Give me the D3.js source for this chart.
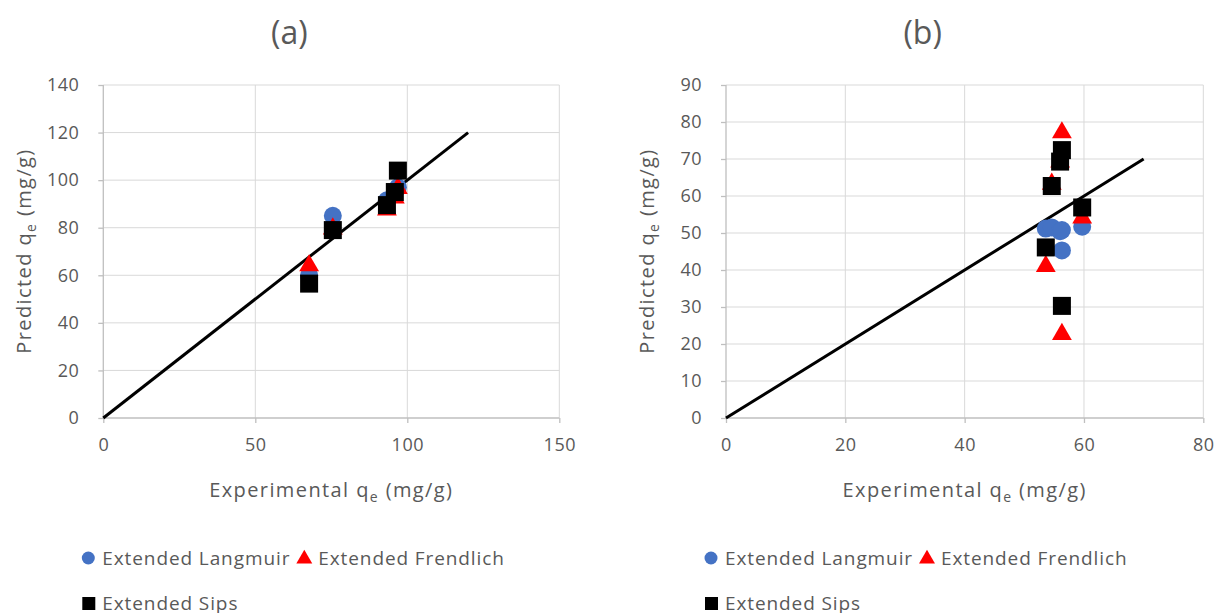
<!DOCTYPE html>
<html>
<head>
<meta charset="utf-8">
<script src="https://cdn.jsdelivr.net/npm/d3@7"></script>
<style>
  body { margin: 0; background: #fff; }
  text { font-family: "Open Sans", sans-serif; fill: #595959; }
</style>
</head>
<body>
<script>
// panel (a)
const expA = [67.7, 75.5, 93.3, 95.9, 96.9];
const langA = [60, 85, 91.5, 95, 97];
const frenA = [64.5, 80, 88, 93, 97];
const sipsA = [56.5, 79, 89.5, 95, 104];

// panel (b)
const expB = [53.6, 54.6, 56.0, 56.3, 56.3, 59.7];
const langB = [51.2, 51.5, 50.5, 50.8, 45.3, 51.7];
const frenB = [41.3, 63.5, 69.5, 77.4, 22.9, 54.4];
const sipsB = [46.1, 62.7, 69.3, 72.4, 30.3, 56.9];

const xTicksA = [0, 50, 100, 150], yTicksA = d3.range(0, 141, 20);
const xTicksB = [0, 20, 40, 60, 80], yTicksB = d3.range(0, 91, 10);
const lineA = [0, 120], lineB = [0, 70];

const W = 1217, H = 613;
const svg = d3.select('body').append('svg')
   .attr("width", W)
   .attr("height", H);

function panel(o) {
  const x = d3.scaleLinear().domain([0, o.xMax]).range([o.left, o.right]);
  const y = d3.scaleLinear().domain([0, o.yMax]).range([418, 85]);
  const g = svg.append('g');

  // gridlines
  g.selectAll('.gy').data(o.yTicks.slice(1)).enter().append('line')
    .attr('x1', o.left).attr('x2', o.right)
    .attr('y1', d => y(d)).attr('y2', d => y(d))
    .attr('stroke', '#d9d9d9').attr('stroke-width', 1);
  g.selectAll('.gx').data(o.xTicks.slice(1)).enter().append('line')
    .attr('x1', d => x(d)).attr('x2', d => x(d))
    .attr('y1', 85).attr('y2', 418)
    .attr('stroke', '#d9d9d9').attr('stroke-width', 1);

  const xAxis = g.append('g').attr('transform', 'translate(0,418)')
    .call(d3.axisBottom(x).tickValues(o.xTicks).tickSize(5).tickPadding(15));
  const yAxis = g.append('g').attr('transform', `translate(${o.left},0)`)
    .call(d3.axisLeft(y).tickValues(o.yTicks).tickSize(5).tickPadding(19));
  [xAxis, yAxis].forEach(a => {
    a.select('.domain').attr('stroke', '#bfbfbf').attr('stroke-width', 1.3);
    a.selectAll('.tick line').attr('stroke', '#bfbfbf').attr('stroke-width', 1.3);
    a.selectAll('.tick text').style('font-size', '18px').attr('fill', '#595959')
      .style('font-family', '"Open Sans", sans-serif').style('letter-spacing', '0.5px');
  });
  xAxis.select('.domain').attr('d', `M${o.left},0H${o.right}`);
  yAxis.select('.domain').attr('d', `M0,418V85`);

  // 1:1 line
  g.append('line')
    .attr('x1', x(o.line[0])).attr('y1', y(o.line[0]))
    .attr('x2', x(o.line[1])).attr('y2', y(o.line[1]))
    .attr('stroke', '#000').attr('stroke-width', 3);

  const tri = d3.symbol().type(d3.symbolTriangle).size(170);
  g.selectAll('.lang').data(o.exp).enter().append('circle')
    .attr('cx', d => x(d)).attr('cy', (d, i) => y(o.lang[i]))
    .attr('r', 9).attr('fill', '#4472c4');
  g.selectAll('.fren').data(o.exp).enter().append('path')
    .attr('d', tri)
    .attr('transform', (d, i) => `translate(${x(d)},${y(o.fren[i]) + 1})`)
    .attr('fill', '#ff0000');
  g.selectAll('.sips').data(o.exp).enter().append('rect')
    .attr('x', d => x(d) - 9).attr('y', (d, i) => y(o.sips[i]) - 9)
    .attr('width', 18).attr('height', 18).attr('fill', '#000');

  const cx = (o.left + o.right) / 2;
  g.append('text').attr('x', cx - 42).attr('y', 44)
    .attr('text-anchor', 'middle').style('font-size', '32px').attr('fill', '#404040')
    .text(o.title);

  const xl = g.append('text').attr('x', cx).attr('y', 497)
    .attr('text-anchor', 'middle').style('font-size', '20px').style('letter-spacing', '1.4px');
  xl.append('tspan').text('Experimental q');
  xl.append('tspan').text('e').style('font-size', '14px').attr('dy', 5);
  xl.append('tspan').text(' (mg/g)').attr('dy', -5);

  const yl = g.append('text')
    .attr('transform', `translate(${o.left - 72},251) rotate(-90)`)
    .attr('text-anchor', 'middle').style('font-size', '20px').style('letter-spacing', '1.4px');
  yl.append('tspan').text('Predicted q');
  yl.append('tspan').text('e').style('font-size', '14px').attr('dy', 5);
  yl.append('tspan').text(' (mg/g)').attr('dy', -5);

  // legend
  const lx = o.left - 15;
  const ls = '0.9px';
  g.append('circle').attr('cx', lx).attr('cy', 558).attr('r', 6.5).attr('fill', '#4472c4');
  g.append('text').attr('x', lx + 14).attr('y', 565).style('font-size', '19px').style('letter-spacing', ls).text('Extended Langmuir');
  g.append('path').attr('d', d3.symbol().type(d3.symbolTriangle).size(110))
    .attr('transform', `translate(${lx + 216},559)`).attr('fill', '#ff0000');
  g.append('text').attr('x', lx + 230).attr('y', 565).style('font-size', '19px').style('letter-spacing', ls).text('Extended Frendlich');
  g.append('rect').attr('x', lx - 6).attr('y', 597).attr('width', 13).attr('height', 13).attr('fill', '#000');
  g.append('text').attr('x', lx + 14).attr('y', 610).style('font-size', '19px').style('letter-spacing', ls).text('Extended Sips');
}

panel({left: 103.3, right: 559.3, xMax: 150, yMax: 140, xTicks: xTicksA, yTicks: yTicksA,
  line: lineA, exp: expA, lang: langA, fren: frenA, sips: sipsA, title: '(a)'});
panel({left: 726, right: 1203.3, xMax: 80, yMax: 90, xTicks: xTicksB, yTicks: yTicksB,
  line: lineB, exp: expB, lang: langB, fren: frenB, sips: sipsB, title: '(b)'});
</script>
</body>
</html>
